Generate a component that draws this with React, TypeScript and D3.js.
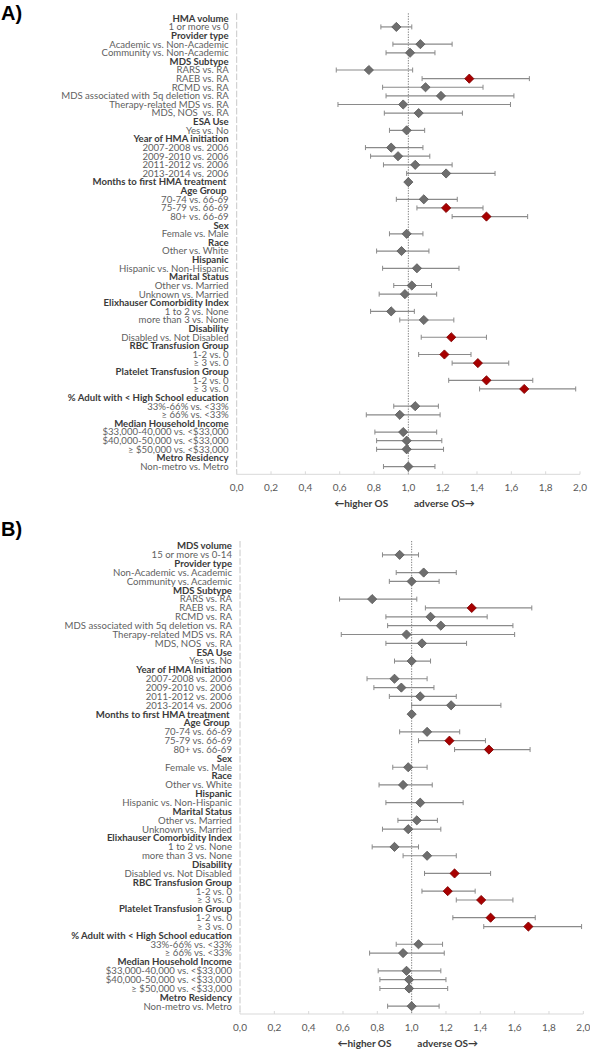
import React from "react";
import * as d3 from "d3";

// ---------- DATA ----------
const headerRows: boolean[] = [
  true, false, true, false, false, true, false, false, false, false, false, false,
  true, false, true, false, false, false, false, true, true, false, false, false,
  true, false, true, false, true, false, true, false, false, true, false, false,
  true, false, true, false, false, true, false, false, true, false, false, true,
  false, false, false, true, false,
];

const labelsA: string[] = [
  "HMA volume", "1 or more vs 0", "Provider type", "Academic vs. Non-Academic",
  "Community vs. Non-Academic", "MDS Subtype", "RARS vs. RA", "RAEB vs. RA", "RCMD vs. RA",
  "MDS associated with 5q deletion vs. RA", "Therapy-related MDS vs. RA", "MDS, NOS  vs. RA",
  "ESA Use", "Yes vs. No", "Year of HMA initiation", "2007-2008 vs. 2006", "2009-2010 vs. 2006",
  "2011-2012 vs. 2006", "2013-2014 vs. 2006", "Months to first HMA treatment ", "Age Group ",
  "70-74 vs. 66-69", "75-79 vs. 66-69", "80+ vs. 66-69", "Sex", "Female vs. Male", "Race",
  "Other vs. White", "Hispanic", "Hispanic vs. Non-Hispanic", "Marital Status",
  "Other vs. Married", "Unknown vs. Married", "Elixhauser Comorbidity Index", "1 to 2 vs. None",
  "more than 3 vs. None", "Disability", "Disabled vs. Not Disabled", "RBC Transfusion Group",
  "1-2 vs. 0", "≥ 3 vs. 0", "Platelet Transfusion Group", "1-2 vs. 0", "≥ 3 vs. 0",
  "% Adult with < High School education", "33%-66% vs. <33%", "≥ 66% vs. <33%",
  "Median Household Income", "$33,000-40,000 vs. <$33,000", "$40,000-50,000 vs. <$33,000",
  "≥ $50,000 vs. <$33,000", "Metro Residency", "Non-metro vs. Metro",
];

const labelsB: string[] = [
  "MDS volume", "15 or more vs 0-14", "Provider type", "Non-Academic vs. Academic",
  "Community vs. Academic", "MDS Subtype", "RARS vs. RA", "RAEB vs. RA", "RCMD vs. RA",
  "MDS associated with 5q deletion vs. RA", "Therapy-related MDS vs. RA", "MDS, NOS  vs. RA",
  "ESA Use", "Yes vs. No", "Year of HMA Initiation", "2007-2008 vs. 2006", "2009-2010 vs. 2006",
  "2011-2012 vs. 2006", "2013-2014 vs. 2006", "Months to first HMA treatment ", "Age Group ",
  "70-74 vs. 66-69", "75-79 vs. 66-69", "80+ vs. 66-69", "Sex", "Female vs. Male", "Race",
  "Other vs. White", "Hispanic", "Hispanic vs. Non-Hispanic", "Marital Status",
  "Other vs. Married", "Unknown vs. Married", "Elixhauser Comorbidity Index", "1 to 2 vs. None",
  "more than 3 vs. None", "Disability", "Disabled vs. Not Disabled", "RBC Transfusion Group",
  "1-2 vs. 0", "≥ 3 vs. 0", "Platelet Transfusion Group", "1-2 vs. 0", "≥ 3 vs. 0",
  "% Adult with < High School education", "33%-66% vs. <33%", "≥ 66% vs. <33%",
  "Median Household Income", "$33,000-40,000 vs. <$33,000", "$40,000-50,000 vs. <$33,000",
  "≥ $50,000 vs. <$33,000", "Metro Residency", "Non-metro vs. Metro",
];

const N = null;
const hrA: (number | null)[] = [
  N, 0.93, N, 1.07, 1.01, N, 0.77, 1.355, 1.10, 1.19, 0.97, 1.06, N, 0.99, N, 0.90, 0.94, 1.04,
  1.22, 1.0, N, 1.09, 1.22, 1.455, N, 0.99, N, 0.96, N, 1.05, N, 1.02, 0.98, N, 0.90, 1.09, N,
  1.25, N, 1.21, 1.405, N, 1.455, 1.675, N, 1.04, 0.95, N, 0.97, 0.99, 0.99, N, 1.0,
];
const lowA: (number | null)[] = [
  N, 0.84, N, 0.91, 0.87, N, 0.58, 1.08, 0.85, 0.87, 0.59, 0.86, N, 0.89, N, 0.75, 0.78, 0.855,
  0.99, 0.99, N, 0.93, 1.05, 1.255, N, 0.89, N, 0.815, N, 0.85, N, 0.915, 0.83, N, 0.78, 0.95, N,
  1.075, N, 1.06, 1.255, N, 1.235, 1.415, N, 0.915, 0.755, N, 0.805, 0.815, 0.815, N, 0.855,
];
const highA: (number | null)[] = [
  N, 1.02, N, 1.255, 1.155, N, 1.025, 1.705, 1.435, 1.615, 1.595, 1.315, N, 1.095, N, 1.085,
  1.125, 1.255, 1.505, 1.01, N, 1.285, 1.435, 1.695, N, 1.085, N, 1.12, N, 1.295, N, 1.135,
  1.165, N, 1.035, 1.265, N, 1.455, N, 1.365, 1.585, N, 1.725, 1.975, N, 1.175, 1.185, N, 1.165,
  1.195, 1.205, N, 1.155,
];

const hrB: (number | null)[] = [
  N, 0.93, N, 1.07, 1.0, N, 0.77, 1.35, 1.11, 1.17, 0.97, 1.06, N, 1.0, N, 0.90, 0.94, 1.05,
  1.23, 1.0, N, 1.09, 1.22, 1.45, N, 0.98, N, 0.95, N, 1.05, N, 1.03, 0.98, N, 0.90, 1.09, N,
  1.25, N, 1.21, 1.405, N, 1.46, 1.68, N, 1.04, 0.95, N, 0.97, 0.985, 0.985, N, 1.0,
];
const lowB: (number | null)[] = [
  N, 0.83, N, 0.91, 0.87, N, 0.58, 1.08, 0.85, 0.86, 0.59, 0.85, N, 0.90, N, 0.74, 0.78, 0.87,
  1.0, 0.99, N, 0.93, 1.04, 1.25, N, 0.89, N, 0.81, N, 0.85, N, 0.92, 0.83, N, 0.77, 0.95, N,
  1.075, N, 1.06, 1.26, N, 1.24, 1.42, N, 0.91, 0.755, N, 0.805, 0.815, 0.815, N, 0.86,
];
const highB: (number | null)[] = [
  N, 1.04, N, 1.26, 1.16, N, 1.03, 1.70, 1.44, 1.59, 1.60, 1.32, N, 1.11, N, 1.09, 1.13, 1.26,
  1.52, 1.01, N, 1.28, 1.43, 1.69, N, 1.09, N, 1.12, N, 1.30, N, 1.15, 1.17, N, 1.04, 1.26, N,
  1.46, N, 1.37, 1.59, N, 1.72, 1.99, N, 1.18, 1.19, N, 1.17, 1.20, 1.21, N, 1.16,
];

const significantRows: number[] = [7, 22, 23, 37, 39, 40, 42, 43];

const xTicks: number[] = [0, 0.2, 0.4, 0.6, 0.8, 1.0, 1.2, 1.4, 1.6, 1.8, 2.0];

// ---------- PANEL ----------
type PanelProps = {
  tag: string;
  labels: string[];
  hr: (number | null)[];
  low: (number | null)[];
  high: (number | null)[];
  top: number;
  x0: number;
  rowStart: number;
  rowStep: number;
  axisY: number;
};

const FONT = "Lato, 'Liberation Sans Narrow', 'Noto Sans', sans-serif";

function Panel(p: PanelProps) {
  const x = d3.scaleLinear().domain([0, 2]).range([p.x0, p.x0 + 343.3]);
  const y = d3
    .scaleLinear()
    .domain([0, p.labels.length - 1])
    .range([p.rowStart, p.rowStart + p.rowStep * (p.labels.length - 1)]);
  const diamond = d3.symbol().type(d3.symbolSquare).size(42)();
  const labelRight = p.x0 - 8;
  const plotTop = p.rowStart - 5;
  const fmt = (v: number) => d3.format(".1f")(v).replace(".", ",");

  return (
    <g>
      <text
        x={1}
        y={p.top}
        fontFamily="Arial, 'Liberation Sans', sans-serif"
        fontWeight="bold"
        fontSize={20}
        fill="#000"
      >
        {p.tag}
      </text>
      <line
        x1={p.x0}
        x2={p.x0}
        y1={plotTop}
        y2={p.axisY}
        stroke="#c8c8c8"
        strokeWidth={1}
        strokeDasharray="6.6,2"
      />
      <line x1={p.x0} x2={x(2)} y1={p.axisY} y2={p.axisY} stroke="#d9d9d9" strokeWidth={1} />
      {xTicks.map((t) => (
        <g key={t}>
          <line x1={x(t)} x2={x(t)} y1={p.axisY} y2={p.axisY - 3} stroke="#d9d9d9" />
          <text
            x={x(t)}
            y={p.axisY + 17}
            textAnchor="middle"
            fontFamily={FONT}
            fontSize={10}
            fill="#595959"
          >
            {fmt(t)}
          </text>
        </g>
      ))}
      <line
        x1={x(1)}
        x2={x(1)}
        y1={plotTop}
        y2={p.axisY}
        stroke="#7f7f7f"
        strokeWidth={1}
        strokeDasharray="1.3,1.3"
      />
      {p.labels.map((l, i) => (
        <text
          key={"l" + i}
          x={labelRight}
          y={y(i)}
          dy="0.35em"
          textAnchor="end"
          fontFamily={FONT}
          fontSize={9.6}
          fontWeight={headerRows[i] ? "bold" : "normal"}
          fill={headerRows[i] ? "#3a3a3a" : "#5f5f5f"}
          style={{ whiteSpace: "pre" }}
        >
          {l}
        </text>
      ))}
      {p.hr.map((v, i) => {
        if (v === null) return null;
        const lo = p.low[i] as number;
        const hi = p.high[i] as number;
        const sig = significantRows.includes(i);
        const yy = y(i);
        return (
          <g key={"m" + i}>
            <line x1={x(lo)} x2={x(hi)} y1={yy} y2={yy} stroke="#8a8a8a" strokeWidth={1.2} />
            <line x1={x(lo)} x2={x(lo)} y1={yy - 2.5} y2={yy + 2.5} stroke="#8a8a8a" strokeWidth={1} />
            <line x1={x(hi)} x2={x(hi)} y1={yy - 2.5} y2={yy + 2.5} stroke="#8a8a8a" strokeWidth={1} />
            <path
              d={diamond as string}
              transform={`translate(${x(v)},${yy}) rotate(45)`}
              fill={sig ? "#a80000" : "#6e6e6e"}
              stroke={sig ? "#800000" : "#5a5a5a"}
              strokeWidth={0.8}
            />
          </g>
        );
      })}
      <text
        x={x(0.725)}
        y={p.axisY + 33}
        textAnchor="middle"
        fontFamily={FONT}
        fontSize={10}
        fontWeight="bold"
        fill="#3a3a3a"
      >
        ←higher OS
      </text>
      <text
        x={x(1.21)}
        y={p.axisY + 33}
        textAnchor="middle"
        fontFamily={FONT}
        fontSize={10}
        fontWeight="bold"
        fill="#3a3a3a"
      >
        adverse OS→
      </text>
    </g>
  );
}

export default function App() {
  return (
    <svg
      width={590}
      height={1050}
      style={{ position: "absolute", left: 0, top: 0, background: "#fff" }}
    >
      <Panel
        tag="A)"
        labels={labelsA}
        hr={hrA}
        low={lowA}
        high={highA}
        top={20}
        x0={236.7}
        rowStart={18.3}
        rowStep={8.62}
        axisY={474.3}
      />
      <Panel
        tag="B)"
        labels={labelsB}
        hr={hrB}
        low={lowB}
        high={highB}
        top={536}
        x0={240}
        rowStart={546}
        rowStep={8.85}
        axisY={1014}
      />
    </svg>
  );
}
